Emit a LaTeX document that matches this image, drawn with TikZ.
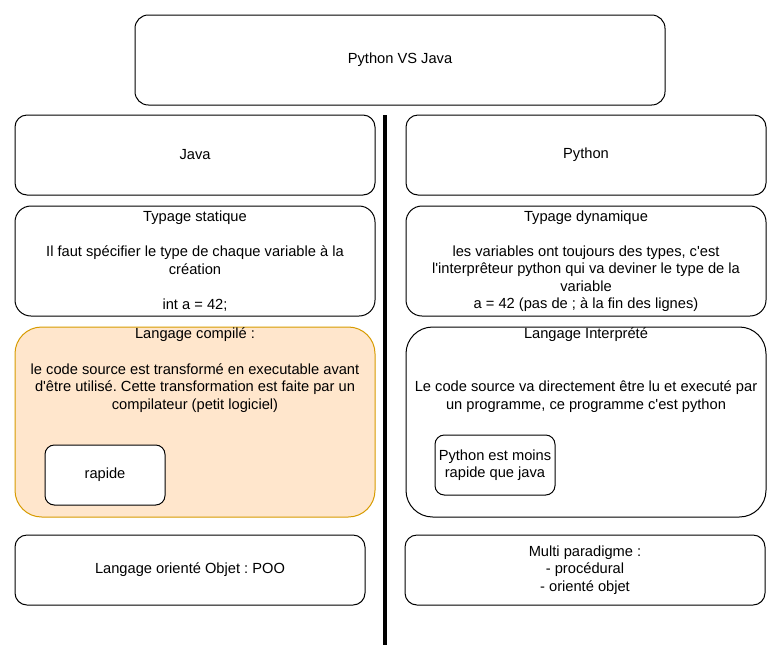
\documentclass[tikz,border=0pt]{standalone}
\usepackage{fontspec}
\setmainfont{Liberation Sans}
\usepackage{xcolor}
\usetikzlibrary{positioning}
\definecolor{compfill}{HTML}{FFE6CC}
\definecolor{compdraw}{HTML}{D79B00}
\frenchspacing

\begin{document}
\begin{tikzpicture}[x=0.75pt, y=-0.75pt,
  box/.style={rectangle, rounded corners=9pt, draw=black, line width=0.75pt, fill=white,
    minimum width=270pt, minimum height=60pt, inner sep=1pt, align=center,
    font=\fontsize{11}{13.1}\selectfont},
  bigbox/.style={box, rounded corners=20pt, minimum height=142.5pt},
  smallbox/.style={box, rounded corners=7pt, minimum width=90pt, minimum height=45pt},
  txt/.style={anchor=north, inner sep=1pt, align=center, font=\fontsize{11}{13.2}\selectfont},
  sep/.style={line width=3pt, black}]
\useasboundingbox (0,0) rectangle (781,665);
\node[box, minimum width=397.5pt, minimum height=67.5pt, rounded corners=10pt] (title) at (400,60) {Python VS Java};
\node[box] (java) at (195,155) {Java};
\node[box, right=22.5pt of java] (python) {Python};
\node[box, rounded corners=12pt, minimum height=82.5pt, below=7.5pt of java] (statique)
  {Typage statique\\[13.1pt]Il faut spécifier le type de chaque variable à la\\création\\[13.1pt]int a = 42;};
\node[box, rounded corners=12pt, minimum height=82.5pt, below=7.5pt of python] (dynamique)
  {Typage dynamique\\[13.1pt]les variables ont toujours des types, c\textquotesingle est\\l\textquotesingle interprêteur python qui va deviner le type de la\\variable\\a = 42 (pas de ; à la fin des lignes)};
\node[bigbox, fill=compfill, draw=compdraw, below=7.5pt of statique] (compile) {};
\node[txt] (compiletxt) at (compile.north)
  {Langage compilé :\\[13.2pt]le code source est transformé en executable avant\\d\textquotesingle être utilisé. Cette transformation est faite par un\\compilateur (petit logiciel)};
\node[smallbox] (rapide) at (105,475) {rapide};
\node[bigbox, below=7.5pt of dynamique] (interprete) {};
\node[txt] (interpretetxt) at (interprete.north)
  {Langage Interprété\\[26.4pt]Le code source va directement être lu et executé par\\un programme, ce programme c\textquotesingle est python};
\node[smallbox] (moins) at (495,465) {Python est moins\\rapide que java};
\node[box, minimum width=262.5pt, minimum height=52.5pt] (poo) at (190,570) {Langage orienté Objet : POO};
\node[box, minimum height=52.5pt] (multi) at (585,570) {Multi paradigme :\\- procédural\\- orienté objet};
% separation
\coordinate (septop) at (385,115);
\coordinate (sepbot) at (385,645);
\draw[sep] (septop) -- (sepbot);
\end{tikzpicture}
\end{document}
